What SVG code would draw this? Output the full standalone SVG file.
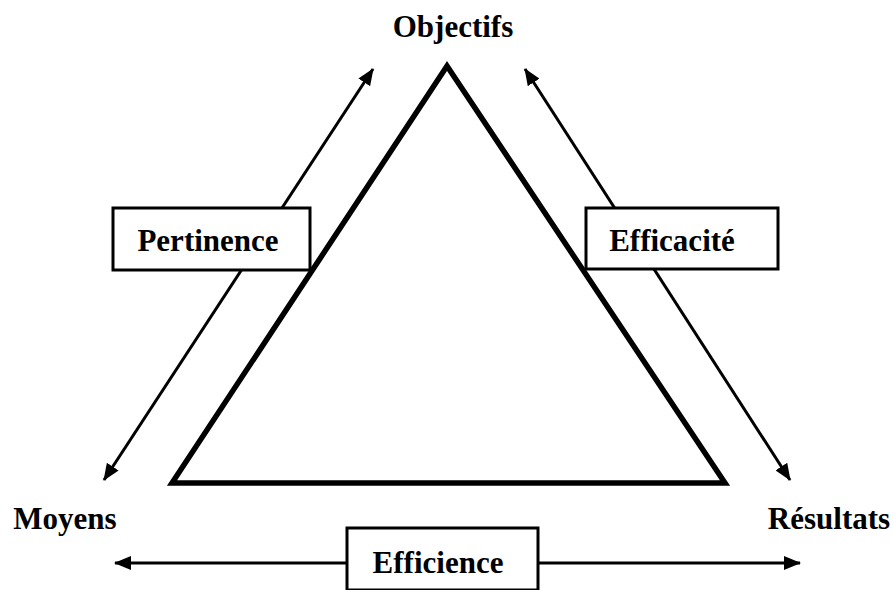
<svg xmlns="http://www.w3.org/2000/svg" width="893" height="590" viewBox="0 0 893 590">
<style>
text{font-family:"Liberation Serif","Times New Roman",serif;font-weight:bold;font-size:31px;fill:#000}
.ln{stroke:#000;stroke-width:3;fill:none}
.box{fill:#fff;stroke:#000;stroke-width:3}
</style>
<defs>
<marker id="ah" markerWidth="17" markerHeight="14" refX="16" refY="7" orient="auto-start-reverse" markerUnits="userSpaceOnUse">
<path d="M0,0 L17,7 L0,14 Z" fill="#000"/>
</marker>
</defs>
<rect width="893" height="590" fill="#fff"/>
<g id="triangle">
<polygon points="447,66 172,483 725,483" fill="#fff" stroke="#000" stroke-width="5.5" stroke-linejoin="miter"/>
</g>
<g id="connectors">
<line class="ln" x1="104" y1="480" x2="373" y2="69" marker-start="url(#ah)" marker-end="url(#ah)"/>
<line class="ln" x1="525" y1="69" x2="790" y2="480" marker-start="url(#ah)" marker-end="url(#ah)"/>
<line class="ln" x1="115" y1="563" x2="800" y2="563" marker-start="url(#ah)" marker-end="url(#ah)"/>
</g>
<g id="objectifs"><text x="453" y="37" text-anchor="middle">Objectifs</text></g>
<g id="moyens"><text x="65" y="529" text-anchor="middle">Moyens</text></g>
<g id="resultats"><text x="829" y="529" text-anchor="middle">Résultats</text></g>
<g id="pertinence">
<rect class="box" x="113" y="208" width="197" height="62"/>
<text x="208" y="251" text-anchor="middle">Pertinence</text>
</g>
<g id="efficacite">
<rect class="box" x="586" y="208" width="192" height="61"/>
<text x="672" y="251" text-anchor="middle">Efficacité</text>
</g>
<g id="efficience">
<rect class="box" x="347" y="528" width="191" height="62"/>
<text x="438" y="573" text-anchor="middle">Efficience</text>
</g>
</svg>
